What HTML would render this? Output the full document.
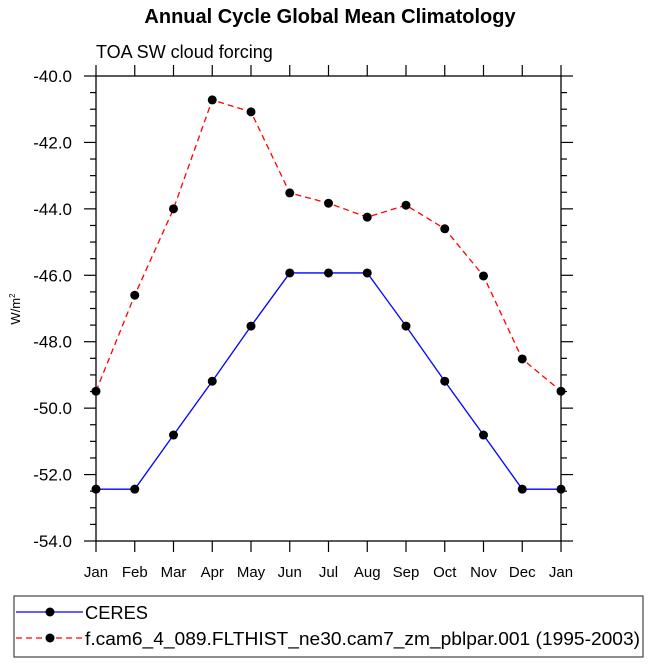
<!DOCTYPE html>
<html><head><meta charset="utf-8"><style>
body{margin:0;background:#fff;width:649px;height:663px;overflow:hidden;font-family:"Liberation Sans",sans-serif}
</style></head><body>
<svg id="c" width="649" height="663" xmlns="http://www.w3.org/2000/svg" font-family="Liberation Sans, sans-serif">
<text x="330" y="23" text-anchor="middle" font-size="20" font-weight="bold">Annual Cycle Global Mean Climatology</text>
<text x="96" y="58" font-size="18">TOA SW cloud forcing</text>
<text transform="translate(20,309) rotate(-90)" text-anchor="middle" font-size="13">W/m<tspan dy="-5" font-size="8">2</tspan></text>
<g id="axes"></g><g id="series"></g>
<rect x="14" y="596" width="629" height="61" fill="none" stroke="#444" stroke-width="1.2"/>
<g>
<line x1="16" y1="612" x2="83" y2="612" stroke="#00f" stroke-width="1.3"/><circle cx="50" cy="612" r="4.5"/>
<text x="85" y="619" font-size="18" textLength="63" lengthAdjust="spacingAndGlyphs">CERES</text></g>
<g>
<line x1="16" y1="638" x2="83" y2="638" stroke="#f00" stroke-width="1.3" stroke-dasharray="6,4"/><circle cx="50" cy="638" r="4.5"/>
<text x="85" y="645" font-size="18" textLength="555" lengthAdjust="spacingAndGlyphs">f.cam6_4_089.FLTHIST_ne30.cam7_zm_pblpar.001 (1995-2003)</text></g>
</svg>
<script>
const months=["Jan","Feb","Mar","Apr","May","Jun","Jul","Aug","Sep","Oct","Nov","Dec","Jan"];
const ceres=[-52.44,-52.44,-50.81,-49.19,-47.53,-45.93,-45.93,-45.93,-47.53,-49.19,-50.81,-52.44,-52.44];
const model=[-49.49,-46.6,-44.0,-40.72,-41.08,-43.52,-43.83,-44.25,-43.89,-44.6,-46.02,-48.52,-49.49];
const yTicks=[-40,-42,-44,-46,-48,-50,-52,-54];
const yMin=-54,yMax=-40;
const L=96,R=561,T=76,B=541;
const NS="http://www.w3.org/2000/svg";
const xs=i=>L+i*(R-L)/(months.length-1);
const ys=v=>T+(yMax-v)/(yMax-yMin)*(B-T);
function mk(t,a,p){const e=document.createElementNS(NS,t);for(const k in a)e.setAttribute(k,a[k]);p.appendChild(e);return e;}
const ax=document.getElementById('axes');
const frame=mk('rect',{x:L,y:T,width:R-L,height:B-T,fill:'none',stroke:'#000','stroke-width':1.3},ax);


for(let v=yMin;v<=yMax+1e-9;v+=0.5){
  const y=ys(v),maj=Math.abs(v%2)<1e-9,len=maj?12:6;
  mk('line',{x1:L-len,y1:y,x2:L,y2:y,stroke:'#000','stroke-width':1.2},ax);
  mk('line',{x1:R,y1:y,x2:R+len,y2:y,stroke:'#000','stroke-width':1.2},ax);
}
yTicks.forEach(v=>{
  const t=mk('text',{x:L-24,y:ys(v)+6,'text-anchor':'end','font-size':17},ax);
  t.textContent=v.toFixed(1);
  
  
});
months.forEach((m,i)=>{
  const x=xs(i);
  mk('line',{x1:x,y1:T-11,x2:x,y2:T,stroke:'#000','stroke-width':1.2},ax);
  mk('line',{x1:x,y1:B,x2:x,y2:B+11,stroke:'#000','stroke-width':1.2},ax);
  const t=mk('text',{x:x,y:B+36,'text-anchor':'middle','font-size':15},ax);
  t.textContent=m;
  
  
});
const sg=document.getElementById('series');
function draw(vals,color,dash,name){
  const g=mk('g',{},sg);
  
  
  mk('polyline',{points:vals.map((v,i)=>xs(i)+','+ys(v)).join(' '),fill:'none',stroke:color,'stroke-width':1.3,'stroke-dasharray':dash},g);
  vals.forEach((v,i)=>{const c=mk('circle',{cx:xs(i),cy:ys(v),r:4.5,fill:'#000'},g);
    
    });
}
draw(ceres,'#00f','none','ceres-line');
draw(model,'#f00','6,4','model-line');
</script>
</body></html>
